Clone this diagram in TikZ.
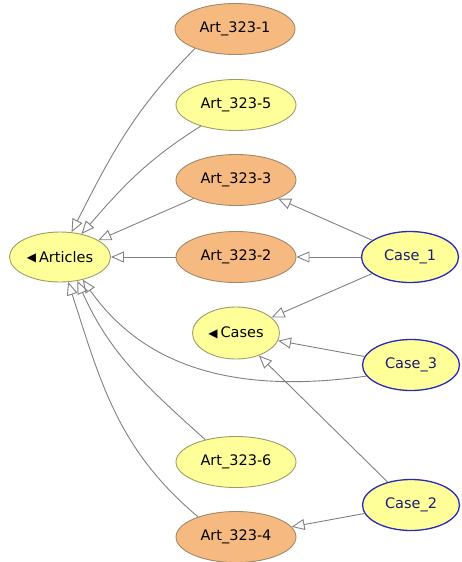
\documentclass[tikz,border=0pt]{standalone}
\usepackage{fontspec}
\setmainfont{DejaVu Sans}
\usetikzlibrary{shapes.geometric,arrows.meta}
\definecolor{yfill}{HTML}{FFFF99}
\definecolor{yline}{HTML}{9C9C6A}
\definecolor{ofill}{HTML}{F6BA80}
\definecolor{oline}{HTML}{A08868}
\definecolor{bline}{HTML}{2A2AB8}
\definecolor{btext}{HTML}{1C1C70}
\definecolor{eline}{HTML}{808080}
\tikzset{
  base/.style={ellipse, inner sep=0pt, font=\fontsize{14.5}{15}\selectfont, line width=0.9pt},
  artY/.style={base, fill=yfill, draw=yline, minimum width=120pt, minimum height=51pt},
  artO/.style={base, fill=ofill, draw=oline, minimum width=120pt, minimum height=51pt},
  casebox/.style={base, fill=yfill, draw=bline, line width=1.3pt, text=btext, minimum width=97pt, minimum height=51pt},
  classbox/.style={base, fill=yfill, draw=yline},
  edge/.style={draw=eline, line width=0.9pt, -{Triangle[open, length=13pt, width=11pt]}}
}
\newcommand{\lefttri}{\raisebox{0.6pt}{\fontsize{12}{12}\selectfont ◀}\hspace{3pt}}
\begin{document}
\begin{tikzpicture}[x=1pt,y=-1pt]
\useasboundingbox (0,0) rectangle (462,562);
\node[artO] (a1) at (235,29) {Art\_323-1};
\node[artY] (a5) at (236,105) {Art\_323-5};
\node[artO] (a3) at (236,180) {Art\_323-3};
\node[artO] (a2) at (236,257) {Art\_323-2};
\node[classbox, minimum width=101pt, minimum height=50pt] (art) at (60,257) {\lefttri Articles};
\node[casebox] (c1) at (410,257) {Case\_1};
\node[classbox, minimum width=87pt, minimum height=52pt] (cases) at (236,333) {\lefttri Cases};
\node[casebox] (c3) at (411,365) {Case\_3};
\node[artY] (a6) at (236,462) {Art\_323-6};
\node[casebox] (c2) at (411,505) {Case\_2};
\node[artO] (a4) at (236,537) {Art\_323-4};

\draw[edge] (a1.206) to[out=225,in=63] (art.65);
\draw[edge] (a5.211) to[out=212,in=49] (art.47);
\draw[edge] (a3) -- (art);
\draw[edge] (a2) -- (art);
\draw[edge] (c1) -- (a2);
\draw[edge] (c1) -- (a3);
\draw[edge] (c1) -- (cases);
\draw[edge] (c3) -- (cases);
\draw[edge] (c2) -- (cases);
\draw[edge] (c2) -- (a4);
\draw[edge] (c3.194) to[out=188,in=-55] (art.-45);
\draw[edge] (a6.144) to[out=138,in=-66] (art.-54);
\draw[edge] (a4.152) to[out=140,in=-72] (art.-72);
\end{tikzpicture}
\end{document}
